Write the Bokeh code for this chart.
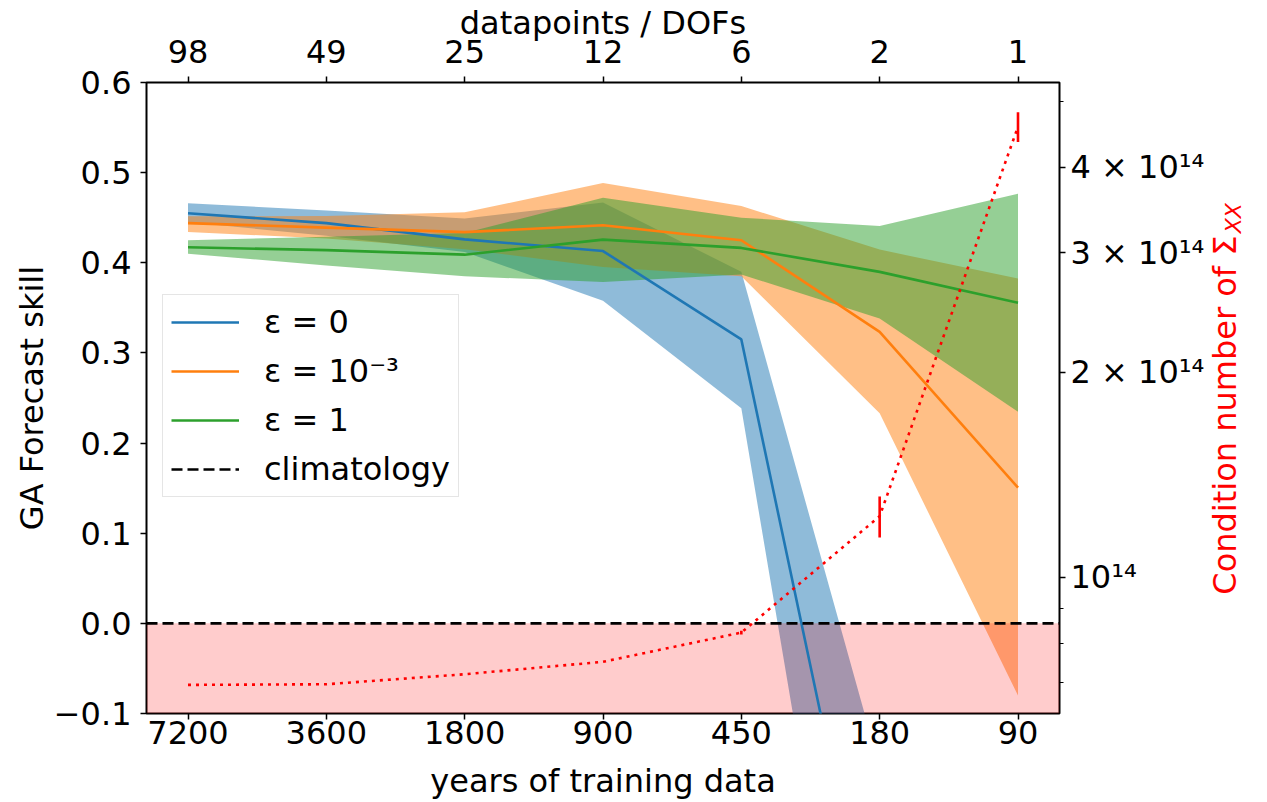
import math
from bokeh.plotting import figure
from bokeh.layouts import row
from bokeh.models import (Range1d, LinearAxis, LogAxis, LogScale, FixedTicker,
                          BoxAnnotation, Legend, LegendItem)
from bokeh.core.properties import value
from bokeh.embed import file_html
from bokeh.resources import INLINE

# ---------------- data ----------------
years = ["7200", "3600", "1800", "900", "450", "180", "90"]
dofs = ["98", "49", "25", "12", "6", "2", "1"]
xpos = list(range(len(years)))

# epsilon = 0 (line leaves the visible range after 450 years)
skill_eps0 = [0.455, 0.444, 0.426, 0.413, 0.315, -0.41]
skill_eps0_hi = [0.466, 0.458, 0.449, 0.467, 0.390, -0.16]
skill_eps0_lo = [0.445, 0.430, 0.412, 0.358, 0.2385, -0.67]

# epsilon = 1e-3
skill_eps3 = [0.444, 0.439, 0.434, 0.4416, 0.425, 0.3234, 0.1506]
skill_eps3_hi = [0.4515, 0.452, 0.456, 0.4884, 0.463, 0.4146, 0.3825]
skill_eps3_lo = [0.4342, 0.427, 0.415, 0.3954, 0.385, 0.233, -0.080]

# epsilon = 1
skill_eps1 = [0.4172, 0.414, 0.409, 0.4257, 0.4165, 0.3899, 0.3556]
skill_eps1_hi = [0.425, 0.429, 0.433, 0.4722, 0.450, 0.4408, 0.4767]
skill_eps1_lo = [0.410, 0.397, 0.385, 0.3788, 0.387, 0.3382, 0.2348]

climatology = 0.0

# condition number of Sigma_XX (right log axis)
cond_number = [6.955e13, 6.97e13, 7.21e13, 7.52e13, 8.30e13, 1.23e14, 4.59e14]
cond_err = [0.0, 0.0, 0.0, 0.0, 0.005e14, 0.085e14, 0.23e14]

skill_ticks = [-0.1, 0.0, 0.1, 0.2, 0.3, 0.4, 0.5, 0.6]
skill_tick_labels = ["\u22120.1", "0.0", "0.1", "0.2", "0.3", "0.4", "0.5", "0.6"]
cond_ticks = [1e14, 2e14, 3e14, 4e14]
cond_tick_labels = ["10\u00b9\u2074", "2 \u00d7 10\u00b9\u2074", "3 \u00d7 10\u00b9\u2074", "4 \u00d7 10\u00b9\u2074"]
cond_minor_ticks = [7e13, 8e13, 9e13, 5e14]

cond_label_main = "Condition number of \u03a3"
cond_label_sub = "XX"

# ---------------- styling ----------------
FONT = "DejaVu Sans"
FS = "32px"
C0, C1, C2 = "#1f77b4", "#ff7f0e", "#2ca02c"
MAIN_W, TOTAL_W, H = 1207, 1267, 802
FRAME_L, FRAME_R, FRAME_T, FRAME_B = 146, 1060, 82, 714
XMIN, XMAX = -0.3, 6.3

p = figure(width=MAIN_W, height=H, output_backend="svg", toolbar_location=None,
           x_range=Range1d(XMIN, XMAX), y_range=Range1d(-0.1, 0.6),
           min_border_left=FRAME_L, min_border_right=MAIN_W - FRAME_R,
           min_border_top=FRAME_T, min_border_bottom=H - FRAME_B)
p.extra_y_ranges = {"cond": Range1d(6.314e13, 5.33e14)}
p.extra_y_scales = {"cond": LogScale()}
p.grid.visible = False
p.background_fill_color = "white"
p.border_fill_color = "white"
p.outline_line_color = "black"
p.outline_line_width = 2


def style_axis(ax):
    ax.axis_line_color = None
    ax.major_tick_out = 6
    ax.major_tick_in = 0
    ax.major_tick_line_width = 1.5
    ax.major_tick_line_color = "black"
    ax.minor_tick_out = 4
    ax.minor_tick_in = 0
    ax.minor_tick_line_width = 1.2
    ax.major_label_text_font = FONT
    ax.major_label_text_font_size = FS
    ax.major_label_text_color = "black"
    ax.axis_label_text_font = FONT
    ax.axis_label_text_font_size = FS
    ax.axis_label_text_font_style = "normal"
    ax.axis_label_text_color = "black"


def set_label_standoff(ax, v, fallback):
    try:
        ax.axis_label_standoff = v
    except Exception:
        ax.axis_label_standoff = fallback


# bottom axis
xb = p.xaxis[0]
style_axis(xb)
xb.ticker = FixedTicker(ticks=xpos)
xb.major_label_overrides = dict(zip(xpos, years))
xb.axis_label = "years of training data"
xb.major_label_standoff = 1
xb.axis_label_standoff = 15

# left axis
yl = p.yaxis[0]
style_axis(yl)
yl.ticker = FixedTicker(ticks=skill_ticks)
yl.major_label_overrides = dict(zip(skill_ticks, skill_tick_labels))
yl.axis_label = "GA Forecast skill"
yl.major_label_standoff = 9
yl.axis_label_standoff = 0

# top axis
xt = LinearAxis(ticker=FixedTicker(ticks=xpos), axis_label="datapoints / DOFs")
style_axis(xt)
xt.major_label_overrides = dict(zip(xpos, dofs))
xt.major_label_standoff = 14
set_label_standoff(xt, -5, 0)
p.add_layout(xt, "above")

# right log axis
yr = LogAxis(y_range_name="cond",
             ticker=FixedTicker(ticks=cond_ticks, minor_ticks=cond_minor_ticks))
style_axis(yr)
yr.major_label_overrides = dict(zip(cond_ticks, cond_tick_labels))
yr.major_label_standoff = 5
p.add_layout(yr, "right")

# ---------------- bands ----------------
n0 = len(skill_eps0)
p.varea(x=xpos[:n0], y1=skill_eps0_lo, y2=skill_eps0_hi, fill_color=C0, fill_alpha=0.5, level="underlay")
p.varea(x=xpos, y1=skill_eps3_lo, y2=skill_eps3_hi, fill_color=C1, fill_alpha=0.5, level="underlay")
p.varea(x=xpos, y1=skill_eps1_lo, y2=skill_eps1_hi, fill_color=C2, fill_alpha=0.5, level="underlay")

# red "worse than climatology" region
p.add_layout(BoxAnnotation(top=climatology, fill_color="red", fill_alpha=0.2,
                           line_alpha=0, level="underlay"))

# ---------------- lines ----------------
r0 = p.line(xpos[:n0], skill_eps0, line_color=C0, line_width=2.6)
r1 = p.line(xpos, skill_eps3, line_color=C1, line_width=2.6)
r2 = p.line(xpos, skill_eps1, line_color=C2, line_width=2.6)

# climatology reference line across the full axes width
r_clim = p.line([XMIN, XMAX], [climatology, climatology], line_color="black",
                line_dash="11 5", line_width=2.6)

# condition number
p.line(xpos, cond_number, y_range_name="cond", line_color="red",
       line_dash="3 5", line_width=2.6)
cond_lo = [v - e for v, e in zip(cond_number, cond_err)]
cond_hi = [v + e for v, e in zip(cond_number, cond_err)]
p.segment(x0=xpos, y0=cond_lo, x1=xpos, y1=cond_hi, y_range_name="cond",
          line_color="red", line_width=2.6)

# ---------------- legend ----------------
legend = Legend(items=[
    LegendItem(label="\u03b5 = 0", renderers=[r0]),
    LegendItem(label="\u03b5 = 10\u207b\u00b3", renderers=[r1]),
    LegendItem(label="\u03b5 = 1", renderers=[r2]),
    LegendItem(label="climatology", renderers=[r_clim]),
], location=(16, 216))
legend.label_text_font = FONT
legend.label_text_font_size = FS
legend.label_text_color = "black"
legend.glyph_width = 68
legend.glyph_height = 38
legend.label_height = 38
legend.label_standoff = 25
legend.spacing = 11
legend.padding = 8
legend.margin = 0
legend.border_line_color = "#cccccc"
legend.border_line_width = 1.5
legend.background_fill_alpha = 0.85
p.add_layout(legend)

# ---------------- right axis label (with subscript), in a narrow side strip ----------------
# the strip's frame is aligned with the main frame (rows align plot frames),
# so its y range is expressed as page pixels measured from the bottom.
SW = TOTAL_W - MAIN_W
q = figure(width=SW, height=H, output_backend="svg", toolbar_location=None,
           x_range=Range1d(0, SW), y_range=Range1d(H - FRAME_B, H - FRAME_T),
           x_axis_location=None, y_axis_location=None,
           min_border=0, min_border_left=0, min_border_right=0,
           min_border_top=0, min_border_bottom=0)
q.grid.visible = False
q.outline_line_color = None
q.background_fill_color = "white"
q.border_fill_color = "white"
q.text(x=[1224 - MAIN_W], y=[H - 595], text=[cond_label_main], angle=math.pi / 2,
       text_align="left", text_baseline="middle", text_color="red",
       text_font=value(FONT), text_font_size=value(FS))
q.text(x=[1233 - MAIN_W], y=[H - 233], text=[cond_label_sub], angle=math.pi / 2,
       text_align="left", text_baseline="middle", text_color="red",
       text_font=value(FONT), text_font_size=value("22px"), text_font_style="italic")

layout = row(p, q, spacing=0)
open("out.html", "w").write(file_html(layout, INLINE))
